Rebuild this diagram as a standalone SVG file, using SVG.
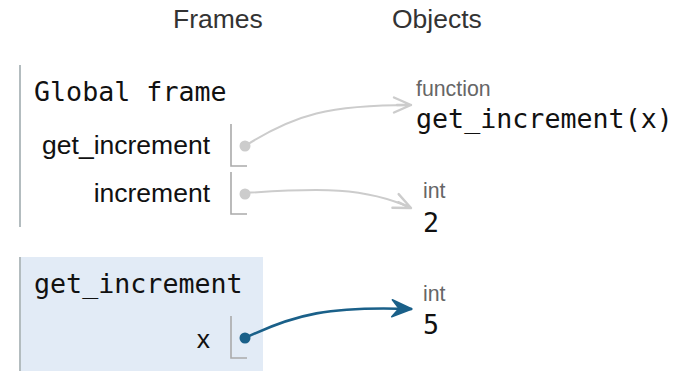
<svg xmlns="http://www.w3.org/2000/svg" width="675" height="371" viewBox="0 0 675 371">
  <style>
    .hdr { font-family: "Liberation Sans", Arial, sans-serif; font-size: 26.5px; fill: #333; }
    .code { font-family: "DejaVu Sans Mono", monospace; font-size: 26.67px; fill: #111; }
    .lbl { font-family: "Liberation Sans", Arial, sans-serif; font-size: 26.5px; fill: #111; text-anchor: end; }
    .type { font-family: "Liberation Sans", Arial, sans-serif; font-size: 21.3px; fill: #666; }
    .border { stroke: #b3bcbf; stroke-width: 2; fill: none; }
    .slot { stroke: #aaa; stroke-width: 1.6; fill: none; }
    .ref { fill: none; stroke-width: 2; }
    .gray { stroke: #cccccc; }
    .blue { stroke: #1a6089; stroke-width: 2.6; }
  </style>
  <defs>
    <marker id="headGray" viewBox="0 0 22 20" refX="20" refY="10" markerWidth="22" markerHeight="20" markerUnits="userSpaceOnUse" orient="auto">
      <path d="M3,2.5 L20,10 L3,17.5 M20,10 L6,10" fill="none" stroke="#cccccc" stroke-width="2.4" stroke-linecap="round" stroke-linejoin="round"/>
    </marker>
    <marker id="headBlue" viewBox="0 0 24 22" refX="22" refY="11" markerWidth="24" markerHeight="22" markerUnits="userSpaceOnUse" orient="auto">
      <path d="M2,2.5 L22,11 L2,19.5 L9,11 Z" fill="#1a6089" stroke="#1a6089" stroke-width="1.5" stroke-linejoin="round"/>
    </marker>
  </defs>

  <text class="hdr" x="173" y="28">Frames</text>
  <text class="hdr" x="392" y="28">Objects</text>

  <g id="global-frame">
    <line class="border" x1="20" y1="65" x2="20" y2="227"/>
    <text class="code" x="34" y="101">Global frame</text>
    <text class="lbl" x="210" y="154">get_increment</text>
    <path class="slot" d="M231,124 V166 H247"/>
    <text class="lbl" x="210" y="202">increment</text>
    <path class="slot" d="M231,172 V214 H247"/>
  </g>

  <g id="get-increment-frame">
    <rect x="20" y="257" width="243" height="114" fill="#e2ebf6"/>
    <line class="border" x1="20" y1="257" x2="20" y2="371"/>
    <text class="code" x="34" y="293">get_increment</text>
    <text class="lbl" x="210" y="348">x</text>
    <path class="slot" d="M231,316 V358 H247"/>
  </g>

  <g id="obj-function">
    <text class="type" x="416" y="96">function</text>
    <text class="code" x="416" y="128">get_increment(x)</text>
  </g>

  <g id="obj-int-2">
    <text class="type" x="423" y="198">int</text>
    <text class="code" x="423" y="232">2</text>
  </g>

  <g id="obj-int-5">
    <text class="type" x="423" y="301">int</text>
    <text class="code" x="423" y="334">5</text>
  </g>

  <g id="connectors">
    <path class="ref gray" d="M245,146 C295,114 330,105 411,105" marker-end="url(#headGray)"/>
    <circle cx="245" cy="146" r="5.5" fill="#cccccc"/>
    <path class="ref gray" d="M245,193 C320,188 365,187 411,208" marker-end="url(#headGray)"/>
    <circle cx="245" cy="194" r="5.5" fill="#cccccc"/>
    <path class="ref blue" d="M245,338 C295,314 330,306 412,309" marker-end="url(#headBlue)"/>
    <circle cx="245" cy="338" r="5.5" fill="#1a6089"/>
  </g>
</svg>
